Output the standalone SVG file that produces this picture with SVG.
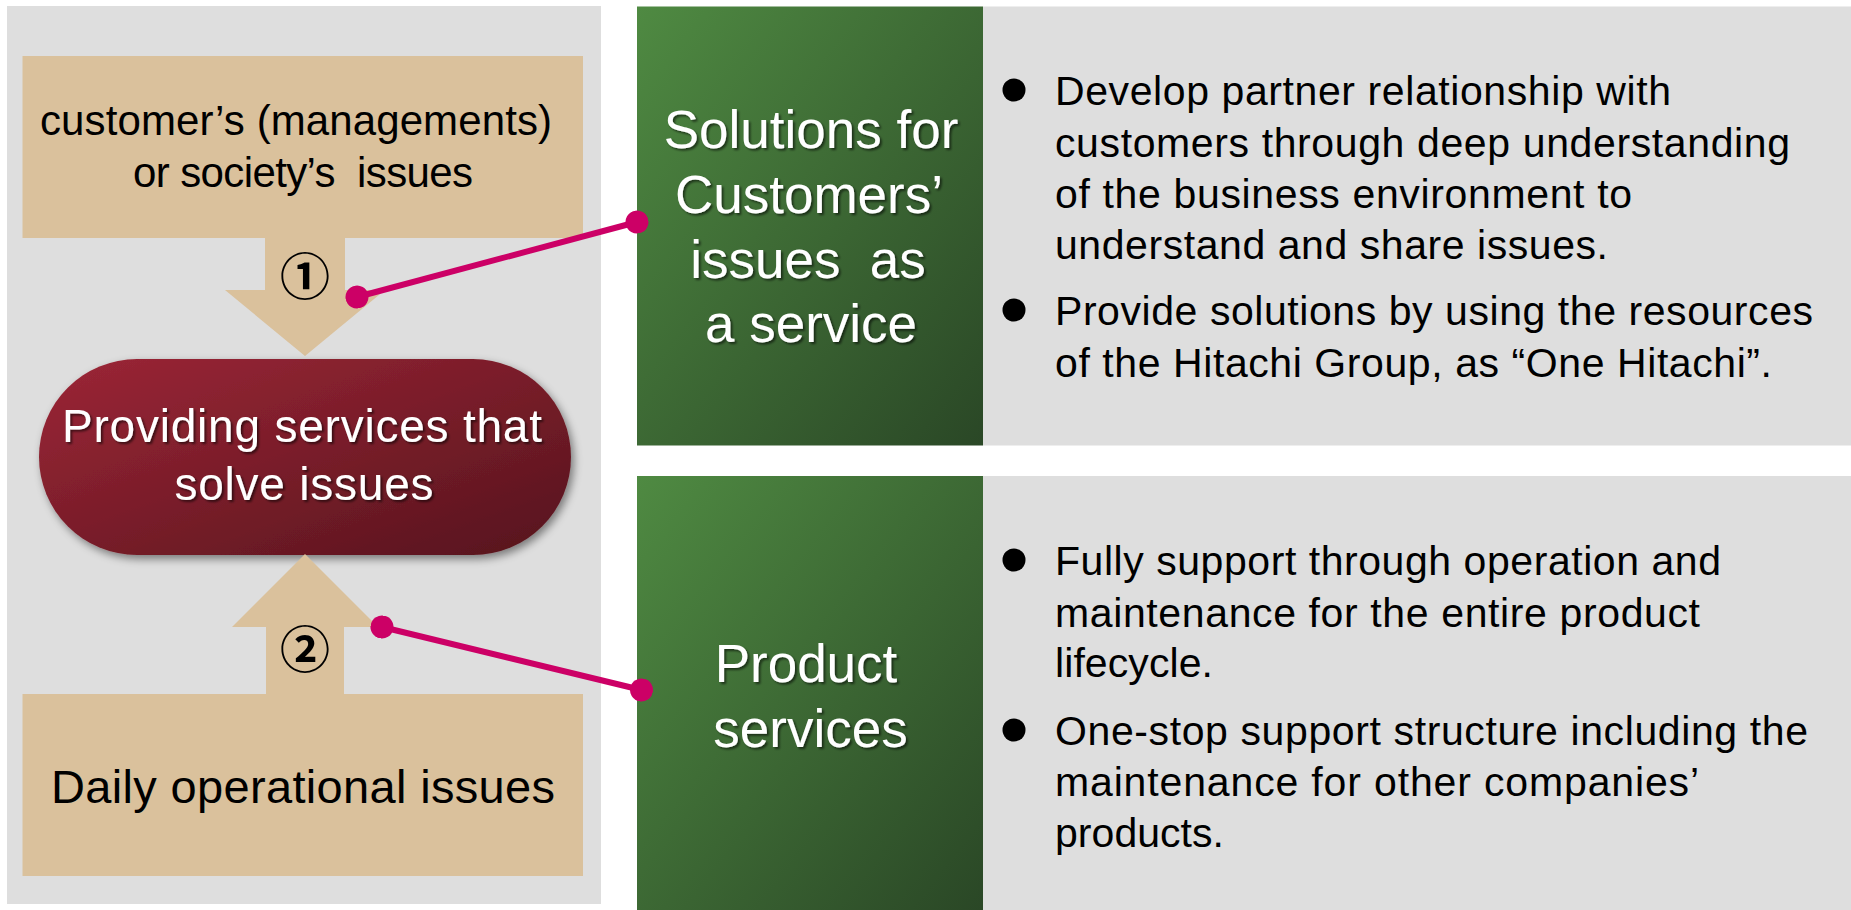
<svg xmlns="http://www.w3.org/2000/svg" width="1851" height="910" viewBox="0 0 1851 910">
  <style>
    .panel { fill: #dedede; }
    .tan { fill: #dac19c; }
    .dark { font-family: "Liberation Sans", Arial, sans-serif; fill: #000; }
    .light { font-family: "Liberation Sans", Arial, sans-serif; fill: #fff; filter: url(#textShadow); }
    .num { font-family: "Noto Sans CJK JP", sans-serif; fill: #000; font-size: 50px; font-weight: 700; }
    .body { font-size: 41px; }
    .link { stroke: #cc0066; stroke-width: 6; fill: none; marker-start: url(#dot); marker-end: url(#dot); }
  </style>
  <defs>
    <linearGradient id="greenFill" x1="0" y1="0" x2="1" y2="1">
      <stop offset="0" stop-color="#4f8a42"/>
      <stop offset="1" stop-color="#2a4726"/>
    </linearGradient>
    <linearGradient id="redFill" x1="0" y1="0" x2="1" y2="1">
      <stop offset="0" stop-color="#9c2636"/>
      <stop offset="1" stop-color="#55141d"/>
    </linearGradient>
    <filter id="textShadow" x="-10%" y="-20%" width="120%" height="150%">
      <feDropShadow dx="2" dy="2" stdDeviation="1.2" flood-color="#000" flood-opacity="0.55"/>
    </filter>
    <filter id="pillShadow" x="-10%" y="-10%" width="125%" height="130%">
      <feDropShadow dx="3" dy="4" stdDeviation="4" flood-color="#000" flood-opacity="0.45"/>
    </filter>
    <marker id="dot" viewBox="-11.5 -11.5 23 23" markerWidth="23" markerHeight="23" markerUnits="userSpaceOnUse" refX="0" refY="0" orient="auto">
      <circle r="11.5" fill="#cc0066"/>
    </marker>
  </defs>

  <rect width="1851" height="910" fill="#fff"/>

  <!-- left column backdrop -->
  <g id="issues-panel">
    <rect class="panel" x="7" y="6" width="594" height="898"/>
  </g>

  <!-- management / society issues with downward arrow -->
  <g id="issue-management">
    <rect class="tan" x="22.5" y="56" width="560.5" height="182"/>
    <polygon class="tan" points="265,237 345,237 345,290 385,290 305,356 225,290 265,290"/>
    <text class="dark" font-size="42" text-anchor="middle" x="296" y="135" textLength="512" lengthAdjust="spacing">customer’s (managements)</text>
    <text class="dark" font-size="42" text-anchor="middle" x="303" y="187" textLength="340" lengthAdjust="spacing" xml:space="preserve">or society’s  issues</text>
    <text class="num" x="305" y="273" text-anchor="middle" dominant-baseline="central">①</text>
  </g>

  <!-- central outcome -->
  <g id="solve-issues">
    <rect x="39" y="359" width="532" height="196" rx="98" ry="98" fill="url(#redFill)" filter="url(#pillShadow)"/>
    <text class="light" font-size="46" text-anchor="middle" x="302" y="441.5" textLength="480" lengthAdjust="spacing">Providing services that</text>
    <text class="light" font-size="46" text-anchor="middle" x="304" y="500" textLength="259" lengthAdjust="spacing">solve issues</text>
  </g>

  <!-- daily operational issues with upward arrow -->
  <g id="issue-daily">
    <polygon class="tan" points="305,554 378,627 344,627 344,695 266,695 266,627 232,627"/>
    <rect class="tan" x="22.5" y="694" width="560.5" height="182"/>
    <text class="num" x="305" y="646" text-anchor="middle" dominant-baseline="central">②</text>
    <text class="dark" font-size="47" text-anchor="middle" x="303" y="803" textLength="504" lengthAdjust="spacing">Daily operational issues</text>
  </g>

  <!-- solutions service -->
  <g id="solutions-service">
    <rect x="637" y="6.5" width="346" height="439" fill="url(#greenFill)"/>
    <text class="light" font-size="53" text-anchor="middle" x="811" y="148">Solutions for</text>
    <text class="light" font-size="53" text-anchor="middle" x="809" y="213">Customers’</text>
    <text class="light" font-size="53" text-anchor="middle" x="808" y="277.5" xml:space="preserve">issues  as</text>
    <text class="light" font-size="53" text-anchor="middle" x="811" y="342">a service</text>
  </g>

  <g id="solutions-detail">
    <rect class="panel" x="983" y="6.5" width="868" height="439"/>
    <circle cx="1014" cy="90" r="11.5"/>
    <text class="dark body" x="1055" y="105" textLength="616" lengthAdjust="spacing">Develop partner relationship with</text>
    <text class="dark body" x="1055" y="156.5" textLength="735" lengthAdjust="spacing">customers through deep understanding</text>
    <text class="dark body" x="1055" y="208" textLength="577" lengthAdjust="spacing">of the business environment to</text>
    <text class="dark body" x="1055" y="258.5" textLength="553" lengthAdjust="spacing">understand and share issues.</text>
    <circle cx="1014" cy="310" r="11.5"/>
    <text class="dark body" x="1055" y="325" textLength="758" lengthAdjust="spacing">Provide solutions by using the resources</text>
    <text class="dark body" x="1055" y="376.5" textLength="717" lengthAdjust="spacing">of the Hitachi Group, as “One Hitachi”.</text>
  </g>

  <!-- product service -->
  <g id="product-service">
    <rect x="637" y="476" width="346" height="434" fill="url(#greenFill)"/>
    <text class="light" font-size="53" text-anchor="middle" x="806" y="681.5">Product</text>
    <text class="light" font-size="53" text-anchor="middle" x="810.5" y="746.5">services</text>
  </g>

  <g id="product-detail">
    <rect class="panel" x="983" y="476" width="868" height="434"/>
    <circle cx="1014" cy="560" r="11.5"/>
    <text class="dark body" x="1055" y="575" textLength="666" lengthAdjust="spacing">Fully support through operation and</text>
    <text class="dark body" x="1055" y="626.5" textLength="645" lengthAdjust="spacing">maintenance for the entire product</text>
    <text class="dark body" x="1055" y="677" textLength="158" lengthAdjust="spacing">lifecycle.</text>
    <circle cx="1014" cy="730" r="11.5"/>
    <text class="dark body" x="1055" y="745" textLength="753" lengthAdjust="spacing">One-stop support structure including the</text>
    <text class="dark body" x="1055" y="795.5" textLength="644" lengthAdjust="spacing">maintenance for other companies’</text>
    <text class="dark body" x="1055" y="846.5" textLength="169" lengthAdjust="spacing">products.</text>
  </g>

  <!-- callout connectors -->
  <g id="connectors">
    <line class="link" x1="357" y1="297" x2="637" y2="222"/>
    <line class="link" x1="382" y1="627" x2="641.5" y2="690"/>
  </g>
</svg>
